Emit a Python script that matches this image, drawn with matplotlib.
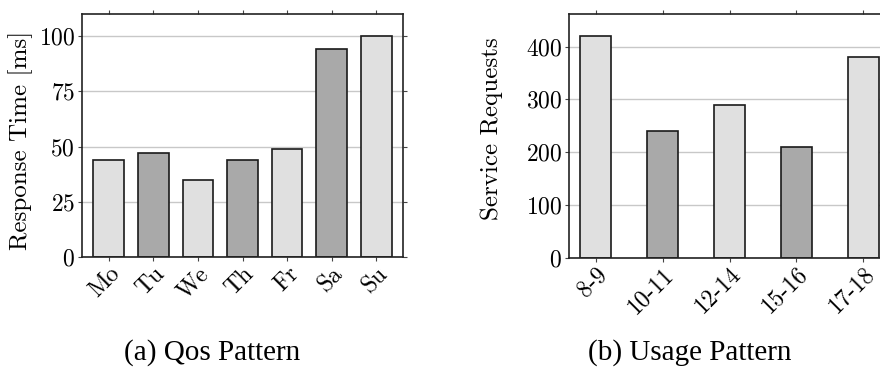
import numpy as np
import matplotlib
matplotlib.use('Agg')
import matplotlib.pyplot as plt

plt.rcParams['font.family'] = ['cmr10', 'DejaVu Serif']
plt.rcParams['axes.formatter.use_mathtext'] = True

# data
days = ['Mo', 'Tu', 'We', 'Th', 'Fr', 'Sa', 'Su']
response_time = [44, 47, 35, 44, 49, 94, 100]

hours = ['8-9', '10-11', '12-14', '15-16', '17-18']
service_requests = [420, 240, 290, 210, 380]

light = '#e0e0e0'
dark = '#a9a9a9'


def style_axes(ax):
	ax.set_axisbelow(True)
	ax.yaxis.grid(True, color='#c8c8c8', linewidth=1.0)
	ax.tick_params(axis='x', which='both', direction='out', length=3,
		top=True, bottom=True, labelsize=17, pad=1, color='#444444')
	ax.tick_params(axis='y', which='both', direction='out', length=3,
		left=True, right=True, labelsize=17, pad=2, color='#444444')
	for s in ax.spines.values():
		s.set_linewidth(1.2)
		s.set_color('#222222')
	for lab in ax.get_xticklabels():
		lab.set_rotation(45)
		lab.set_ha('right')
		lab.set_rotation_mode('anchor')


fig = plt.figure(figsize=(8.8, 3.7), dpi=100)

# (a) QoS pattern
ax1 = fig.add_axes([82/880, 1-257/370, 321/880, 243/370])
x1 = np.arange(len(days))
cols1 = [light if i % 2 == 0 else dark for i in x1]
ax1.bar(x1, response_time, width=0.69, color=cols1, edgecolor='#1a1a1a', linewidth=1.2)
ax1.set_xlim(-0.6, 6.6)
ax1.set_ylim(0, 110)
ax1.set_yticks([0, 25, 50, 75, 100])
ax1.set_xticks(x1)
ax1.set_xticklabels(days)
ax1.set_ylabel('Response Time [ms]', fontsize=18)
ax1.yaxis.set_label_coords(-0.153, 0.48)
style_axes(ax1)

# (b) usage pattern
ax2 = fig.add_axes([569/880, 1-257.5/370, 321/880, 243.5/370])
x2 = np.arange(len(hours))
cols2 = [light if i % 2 == 0 else dark for i in x2]
ax2.bar(x2, service_requests, width=0.46, color=cols2, edgecolor='#1a1a1a', linewidth=1.2)
ax2.set_xlim(-0.4, 4.4)
ax2.set_ylim(0, 462)
ax2.set_yticks([0, 100, 200, 300, 400])
ax2.set_xticks(x2)
ax2.set_xticklabels(hours)
ax2.set_ylabel('Service Requests', fontsize=18)
ax2.yaxis.set_label_coords(-0.205, 0.53)
style_axes(ax2)

# captions
fig.text(212/880, 1-353/370, '(a) Qos Pattern', ha='center', va='center',
	fontsize=21, family='Liberation Serif')
fig.text(690/880, 1-353/370, '(b) Usage Pattern', ha='center', va='center',
	fontsize=21, family='Liberation Serif')

fig.savefig('out.png', dpi=100)
